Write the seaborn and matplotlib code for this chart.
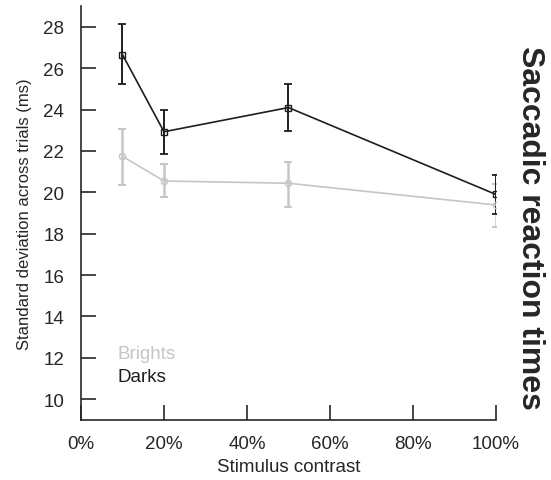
import numpy as np
import pandas as pd
import seaborn as sns
import matplotlib.pyplot as plt

# values
contrast = [10, 20, 50, 100]
darks_mean = [26.66, 22.93, 24.10, 19.90]
darks_lo = [25.24, 21.87, 22.95, 18.94]
darks_hi = [28.13, 23.97, 25.25, 20.85]
brights_mean = [21.74, 20.55, 20.44, 19.39]
brights_lo = [20.37, 19.77, 19.31, 18.31]
brights_hi = [23.08, 21.37, 21.48, 20.40]

sns.set_style("ticks")
plt.rcParams['font.family'] = ['Liberation Sans', 'DejaVu Sans']
plt.rcParams['xtick.direction'] = 'in'
plt.rcParams['ytick.direction'] = 'in'

df = pd.DataFrame({
    'contrast': contrast * 2,
    'sd': brights_mean + darks_mean,
    'cond': ['Brights'] * 4 + ['Darks'] * 4,
})

grey = '#c6c6c6'
dark = '#1e1e1e'

fig = plt.figure(figsize=(5.51, 4.81), dpi=100)
ax = fig.add_axes([0.147, 0.125, 0.753, 0.86])

# error bars
ax.errorbar(contrast, brights_mean,
            yerr=[np.array(brights_mean) - np.array(brights_lo), np.array(brights_hi) - np.array(brights_mean)],
            fmt='none', ecolor=grey, elinewidth=1.8, capsize=3, capthick=1.5, zorder=1)
ax.errorbar(contrast, darks_mean,
            yerr=[np.array(darks_mean) - np.array(darks_lo), np.array(darks_hi) - np.array(darks_mean)],
            fmt='none', ecolor=dark, elinewidth=1.4, capsize=3, capthick=1.3, zorder=2)

sns.lineplot(data=df, x='contrast', y='sd', hue='cond', style='cond',
             palette={'Brights': grey, 'Darks': dark},
             markers={'Brights': 'o', 'Darks': 's'}, dashes=False,
             markersize=4.5, markerfacecolor='none', markeredgewidth=1.0,
             linewidth=1.2, legend=False, ax=ax, zorder=3)

for line, c in zip(ax.lines[-2:], [grey, dark]):
    line.set_markeredgecolor(c)

ax.set_xlim(0, 100)
ax.set_ylim(9, 29)
ax.set_xticks([0, 20, 40, 60, 80, 100])
ax.set_xticklabels(['0%', '20%', '40%', '60%', '80%', '100%'])
ax.set_yticks(range(10, 29, 2))
ax.tick_params(direction='in', length=11, width=1.2, labelsize=13.5)
ax.tick_params(axis='x', pad=11)
ax.tick_params(axis='y', pad=12)
for s in ['left', 'bottom']:
    ax.spines[s].set_linewidth(1.2)
sns.despine(ax=ax)

ax.set_xlabel('Stimulus contrast', fontsize=13.5, labelpad=4)
ax.set_ylabel('Standard deviation across trials (ms)', fontsize=12, labelpad=8)

ax.text(0.087, 0.16, 'Brights', color=grey, fontsize=13.5, va='center', transform=ax.transAxes)
ax.text(0.087, 0.105, 'Darks', color=dark, fontsize=13.5, va='center', transform=ax.transAxes)

fig.text(0.962, 0.526, 'Saccadic reaction times', rotation=-90, fontsize=23,
         fontweight='bold', ha='center', va='center')

fig.savefig('out.png', dpi=100)
